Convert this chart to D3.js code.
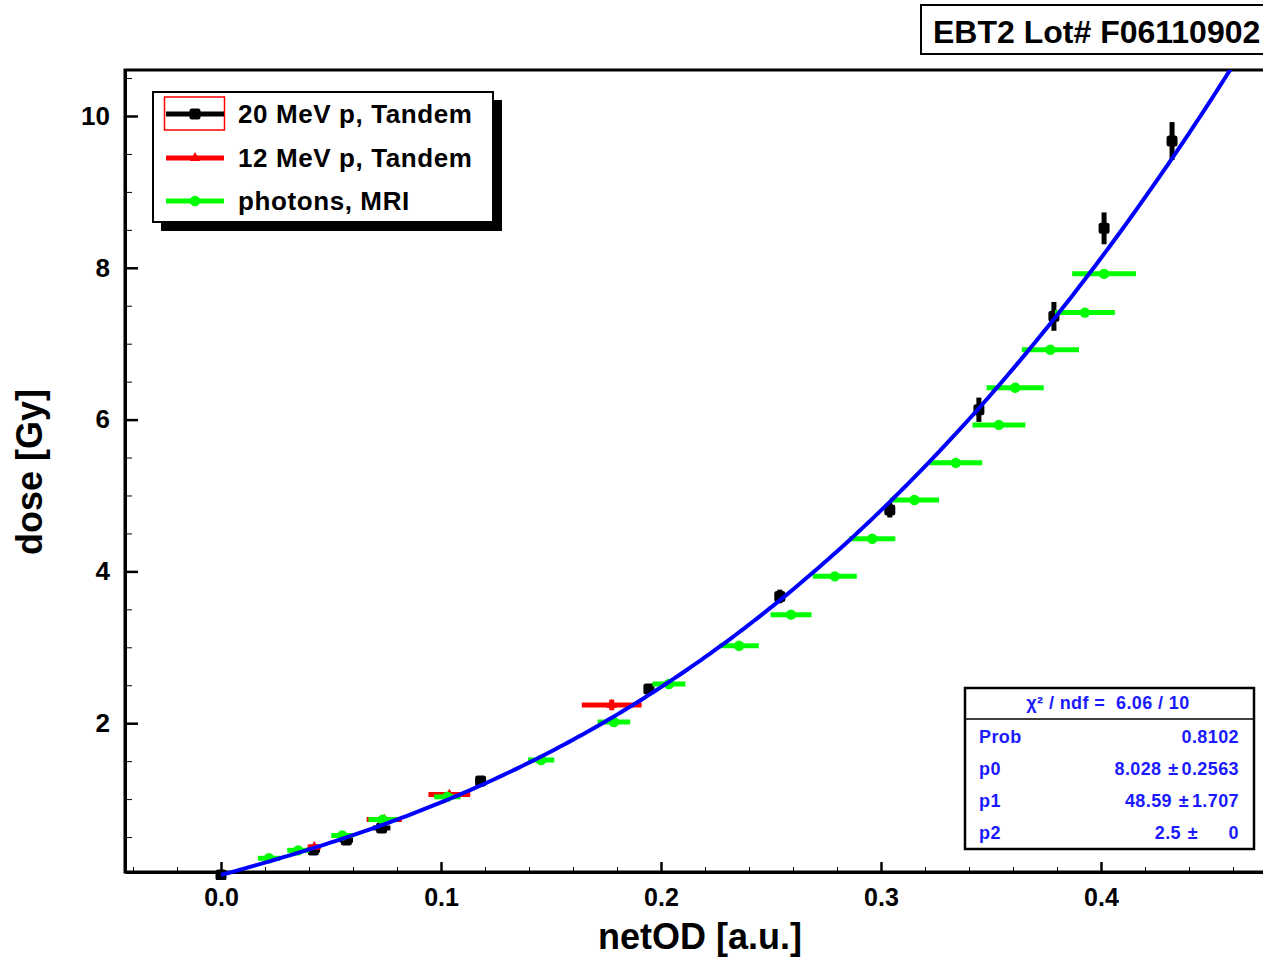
<!DOCTYPE html>
<html>
<head>
<meta charset="utf-8">
<script src="https://cdn.jsdelivr.net/npm/d3@7"></script>
<style>
  body { margin: 0; background: #fff; }
  svg { display: block; font-family: "Liberation Sans", Arial, sans-serif; }
</style>
</head>
<body>
<div id="canvas"></div>
<script>
// 20 MeV p, Tandem
var blackX    = [0.000, 0.042, 0.057, 0.073, 0.118, 0.1945, 0.254, 0.304, 0.3445, 0.3786, 0.4014, 0.4323];
var blackY    = [0.00, 0.33, 0.46, 0.62, 1.24, 2.45, 3.67, 4.81, 6.13, 7.36, 8.52, 9.67];
var blackXErr = [0.002, 0.003, 0.003, 0.004, 0.002, 0.002, 0, 0, 0, 0, 0, 0];
var blackYErr = [0.03, 0.04, 0.04, 0.05, 0.05, 0.06, 0.09, 0.10, 0.16, 0.19, 0.21, 0.25];

// 12 MeV p, Tandem
var redX    = [0.0424, 0.0742, 0.1038, 0.1776];
var redY    = [0.37, 0.73, 1.06, 2.24];
var redXErr = [0.003, 0.008, 0.0095, 0.0136];
var redYErr = [0.02, 0.03, 0.03, 0.07];

// photons, MRI
var greenX    = [0.0218, 0.0351, 0.0551, 0.0735, 0.1029, 0.1455, 0.1786, 0.2036, 0.2355, 0.2591,
                 0.279, 0.296, 0.3152, 0.334, 0.3536, 0.361, 0.377, 0.3927, 0.4014];
var greenY    = [0.22, 0.325, 0.52, 0.73, 1.03, 1.515, 2.016, 2.516, 3.02, 3.43,
                 3.935, 4.43, 4.94, 5.43, 5.93, 6.42, 6.92, 7.41, 7.92];
var greenXErr = [0.005, 0.005, 0.005, 0.0065, 0.006, 0.006, 0.0074, 0.0075, 0.009, 0.0093,
                 0.010, 0.0105, 0.0112, 0.012, 0.012, 0.013, 0.013, 0.0136, 0.0145];

// fit: dose = p0*x + p1*x^p2
var fitParams = [8.028, 48.59, 2.5];

var xMajorTicks = [0.0, 0.1, 0.2, 0.3, 0.4];
var xTickLabels = ["0.0", "0.1", "0.2", "0.3", "0.4"];
var yMajorTicks = [2, 4, 6, 8, 10];

var legendLabels = ["20 MeV p, Tandem", "12 MeV p, Tandem", "photons, MRI"];
var statLabels = ["Prob", "p0", "p1", "p2"];
var statValues = ["0.8102", "8.028", "48.59", "2.5"];
var statErrors = [null, "0.2563", "1.707", "0"];
var chiText = "\u03c7\u00b2 / ndf =  6.06 / 10";
var titleText = "EBT2 Lot# F06110902";

var W = 1263, H = 958;
var pL = 125, pT = 70, pR = 1276, pB = 872;

var x = d3.scaleLinear().domain([-0.04364, 0.47955]).range([pL, pR]);
var y = d3.scaleLinear().domain([0.0395, 10.606]).range([pB, pT]);

var svg = d3.select("#canvas").append("svg")
    .attr("width", W).attr("height", H);

svg.append("defs").append("clipPath").attr("id", "plotclip")
  .append("rect").attr("x", pL).attr("y", pT)
  .attr("width", pR - pL).attr("height", pB - pT + 8);

// frame
svg.append("rect")
    .attr("x", pL).attr("y", pT)
    .attr("width", pR - pL).attr("height", pB - pT)
    .attr("fill", "none").attr("stroke", "#000").attr("stroke-width", 3);

// x axis
var xMinor = d3.range(-0.04, 0.48, 0.02).filter(function(v) {
  return Math.abs(Math.round(v * 10) - v * 10) > 1e-6;
});
var xAxis = d3.axisBottom(x).tickValues(xMajorTicks)
    .tickFormat(function(d, i) { return xTickLabels[i]; })
    .tickSizeInner(-10).tickSizeOuter(0).tickPadding(16);
var gx = svg.append("g").attr("transform", "translate(0," + pB + ")").call(xAxis);
svg.append("g").attr("transform", "translate(0," + pB + ")")
    .call(d3.axisBottom(x).tickValues(xMinor).tickFormat("").tickSizeInner(-5).tickSizeOuter(0))
    .select(".domain").remove();
gx.select(".domain").attr("stroke-width", 3);
gx.selectAll(".tick line").attr("stroke-width", 2.5);
gx.selectAll(".tick text").attr("font-size", 25).attr("font-weight", "bold")
    .attr("fill", "#000").attr("font-family", "Liberation Sans, Arial, sans-serif");

// y axis
var yMinor = d3.range(0.5, 10.6, 0.5).filter(function(v) { return v % 2 !== 0; });
var yAxis = d3.axisLeft(y).tickValues(yMajorTicks).tickFormat(d3.format("d"))
    .tickSizeInner(-13).tickSizeOuter(0).tickPadding(15);
var gy = svg.append("g").attr("transform", "translate(" + pL + ",0)").call(yAxis);
svg.append("g").attr("transform", "translate(" + pL + ",0)")
    .call(d3.axisLeft(y).tickValues(yMinor).tickFormat("").tickSizeInner(-7).tickSizeOuter(0))
    .select(".domain").remove();
gy.select(".domain").attr("stroke-width", 3);
gy.selectAll(".tick line").attr("stroke-width", 2.5);
gy.selectAll(".tick text").attr("font-size", 26).attr("font-weight", "bold")
    .attr("fill", "#000").attr("font-family", "Liberation Sans, Arial, sans-serif");
svg.selectAll(".tick line").attr("stroke", "#000");

// axis titles
svg.append("text").attr("x", 700).attr("y", 949)
    .attr("text-anchor", "middle").attr("font-size", 36).attr("font-weight", "bold")
    .text("netOD [a.u.]");
svg.append("text").attr("transform", "translate(42,472) rotate(-90)")
    .attr("text-anchor", "middle").attr("font-size", 36).attr("font-weight", "bold")
    .text("dose [Gy]");

var plot = svg.append("g").attr("clip-path", "url(#plotclip)");

function drawSeries(xs, ys, xe, ye, color, marker, bw) {
  var g = plot.append("g");
  xs.forEach(function(xv, i) {
    var yv = ys[i];
    var dx = xe ? xe[i] : 0, dy = ye ? ye[i] : 0;
    if (dx > 0) {
      g.append("line").attr("x1", x(xv - dx)).attr("x2", x(xv + dx))
        .attr("y1", y(yv)).attr("y2", y(yv))
        .attr("stroke", color).attr("stroke-width", bw);
    }
    if (dy > 0) {
      g.append("line").attr("x1", x(xv)).attr("x2", x(xv))
        .attr("y1", y(yv - dy)).attr("y2", y(yv + dy))
        .attr("stroke", color).attr("stroke-width", bw);
    }
    marker(g, x(xv), y(yv), color);
  });
}
function squareMarker(g, cx, cy, c) {
  g.append("rect").attr("x", cx - 5.5).attr("y", cy - 5.5).attr("width", 11).attr("height", 11)
    .attr("rx", 2.5).attr("fill", c);
}
function triMarker(g, cx, cy, c) {
  g.append("path").attr("transform", "translate(" + cx + "," + cy + ")")
    .attr("d", d3.symbol(d3.symbolTriangle, 45)()).attr("fill", c);
}
function circleMarker(g, cx, cy, c) {
  g.append("circle").attr("cx", cx).attr("cy", cy).attr("r", 5.2).attr("fill", c);
}

drawSeries(blackX, blackY, blackXErr, blackYErr, "#000", squareMarker, 5);
drawSeries(redX, redY, redXErr, redYErr, "#ff0000", triMarker, 5);
drawSeries(greenX, greenY, greenXErr, null, "#00ff00", circleMarker, 5);

// fit curve
function fitFn(v) { return fitParams[0] * v + fitParams[1] * Math.pow(v, fitParams[2]); }
var xs = d3.range(0, 0.475, 0.002);
plot.append("path")
    .datum(xs)
    .attr("fill", "none").attr("stroke", "#0000ff").attr("stroke-width", 4)
    .attr("d", d3.line().x(function(v) { return x(v); }).y(function(v) { return y(fitFn(v)); }));

// legend
var lg = svg.append("g");
lg.append("rect").attr("x", 161).attr("y", 100).attr("width", 341).attr("height", 131).attr("fill", "#000");
lg.append("rect").attr("x", 153).attr("y", 92).attr("width", 340).attr("height", 130)
    .attr("fill", "#fff").attr("stroke", "#000").attr("stroke-width", 2);
var legColors = ["#000", "#ff0000", "#00ff00"];
var legMarkers = [squareMarker, triMarker, circleMarker];
var legY = [114, 158, 201];
lg.append("rect").attr("x", 164.5).attr("y", 97).attr("width", 60).attr("height", 33)
    .attr("fill", "none").attr("stroke", "#ff0000").attr("stroke-width", 1.5);
legendLabels.forEach(function(t, i) {
  lg.append("line").attr("x1", 166).attr("x2", 224).attr("y1", legY[i]).attr("y2", legY[i])
    .attr("stroke", legColors[i]).attr("stroke-width", 5);
  legMarkers[i](lg, 195, legY[i], legColors[i]);
  lg.append("text").attr("x", 238).attr("y", legY[i] + 9)
    .attr("font-size", 26).attr("font-weight", "bold").attr("letter-spacing", 0.6)
    .text(t);
});

// title box
svg.append("rect").attr("x", 921).attr("y", 5).attr("width", 360).attr("height", 49)
    .attr("fill", "#fff").attr("stroke", "#000").attr("stroke-width", 2);
svg.append("text").attr("x", 933).attr("y", 43)
    .attr("font-size", 32).attr("font-weight", "bold").text(titleText);

// stats box
var statFont = 18, statLs = 0.4, statColor = "#1a1aff";
var sb = svg.append("g");
sb.append("rect").attr("x", 965).attr("y", 688).attr("width", 289).attr("height", 161)
    .attr("fill", "#fff").attr("stroke", "#000").attr("stroke-width", 2.5);
sb.append("line").attr("x1", 965).attr("x2", 1254).attr("y1", 719).attr("y2", 719)
    .attr("stroke", "#000").attr("stroke-width", 1.5);
sb.append("text").attr("x", 1108).attr("y", 709).attr("text-anchor", "middle")
    .attr("font-size", statFont).attr("font-weight", "bold").attr("fill", statColor)
    .attr("letter-spacing", statLs).attr("xml:space", "preserve").text(chiText);
var rowY = [743, 775, 807, 839];
function statText(xp, yp, anchor, t) {
  return sb.append("text").attr("x", xp).attr("y", yp).attr("text-anchor", anchor)
    .attr("font-size", statFont).attr("font-weight", "bold").attr("fill", statColor)
    .attr("letter-spacing", statLs).text(t);
}
statLabels.forEach(function(l, i) {
  statText(979, rowY[i], "start", l);
  if (statErrors[i] === null) {
    statText(1239, rowY[i], "end", statValues[i]);
  } else {
    var et = statText(1239, rowY[i], "end", statErrors[i]);
    var ew = Math.max(et.node().getComputedTextLength(), 38);
    statText(1239 - ew - 3, rowY[i], "end", "\u00b1");
    statText(1239 - ew - 20, rowY[i], "end", statValues[i]);
  }
});
</script>
</body>
</html>
